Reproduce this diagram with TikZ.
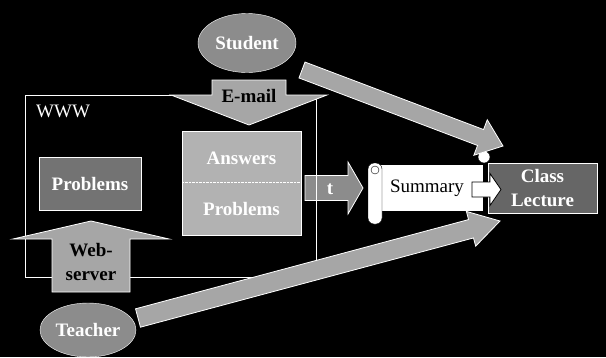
\documentclass[tikz,border=0pt]{standalone}
\usepackage{fontspec}
\setmainfont{Liberation Serif}
\usetikzlibrary{calc}
\usetikzlibrary{shapes.geometric}

\newcommand{\blockarrow}[6]{%
	\coordinate (hb) at ($(#3)!#6!(#2)$);
	\filldraw[#1] ($(#2)!#4!90:(#3)$) -- ($(hb)!#4!90:(#3)$) -- ($(hb)!#5!90:(#3)$) -- (#3)
		-- ($(hb)!#5!-90:(#3)$) -- ($(hb)!#4!-90:(#3)$) -- ($(#2)!#4!-90:(#3)$) -- cycle;
}

\begin{document}
\begin{tikzpicture}[x=1pt,y=-1pt,font=\fontsize{19}{24}\selectfont]
	\tikzstyle{oval}=[ellipse,draw=white,fill=black!45,text=white,font=\fontsize{19}{24}\selectfont\bfseries,inner sep=0pt]
	\tikzstyle{box}=[rectangle,draw=white,fill=black!55,text=white,font=\fontsize{19}{24}\selectfont\bfseries,inner sep=0pt]
	\tikzstyle{pale}=[rectangle,draw=white,fill=black!30,inner sep=0pt]
	\tikzstyle{grayarrow}=[draw=white,fill=black!35,line width=0.8pt]
	\tikzstyle{label}=[inner sep=0pt,font=\fontsize{19}{24}\selectfont\bfseries]
	\fill[black] (0,0) rectangle (606,357);
	% t arrow below the frame
	\coordinate (ta) at (305,188);
	\coordinate (tb) at (363,188);
	\blockarrow{grayarrow,fill=black!45}{ta}{tb}{12.5pt}{26pt}{15pt}
	\node[label,text=white] (t) at (330,189) {t};
	\draw[white,line width=0.6pt] (25,95) rectangle (316,277);
	\node[inner sep=0pt,text=white,anchor=west] (www) at (36,111) {WWW};
	\node[box,minimum width=102,minimum height=53] (problems) at (90,183.5) {Problems};
	\coordinate (wa) at (91,292);
	\coordinate (wb) at (91,221);
	\blockarrow{grayarrow}{wa}{wb}{39pt}{78pt}{18pt}
	\node[label,align=center] (web) at (91,262) {Web-\\server};
	\coordinate (ea) at (249,80);
	\coordinate (eb) at (249,125);
	\blockarrow{grayarrow}{ea}{eb}{37pt}{78pt}{30pt}
	\node[label] (email) at (249,96) {E-mail};
	\node[pale,minimum width=119,minimum height=104] (store) at (241.5,183) {};
	\draw[white,densely dotted] (store.west |- 0,182) -- (store.east |- 0,182);
	\node[label,text=white] (answers) at (241.5,158) {Answers};
	\node[label,text=white] (problems2) at (241.5,209) {Problems};
	\node[oval,minimum width=98,minimum height=59] (student) at (247,43) {Student};
	\node[oval,minimum width=96,minimum height=54] (teacher) at (88,330) {Teacher};
	% summary scroll
	\node[rectangle,draw=black,fill=white,minimum width=104,minimum height=47,inner sep=0pt] (summary) at (431,187.5) {};
	\filldraw[draw=black,fill=white,rounded corners=6pt] (368,163) rectangle (382,224);
	\draw[black] (375,170) circle (4);
	\filldraw[draw=black,fill=white] (484,157) circle (6);
	\node[inner sep=0pt] (summarytext) at (427,188) {Summary};
	\node[box,fill=black!60,minimum width=109,minimum height=50,align=center] (lecture) at (542.5,188) {Class\\Lecture};
	\coordinate (sa) at (472,189.5);
	\coordinate (sb) at (501,189.5);
	\blockarrow{draw=black,fill=white,line width=0.8pt}{sa}{sb}{7.5pt}{16pt}{11pt}
	\coordinate (sta) at (302,70);
	\coordinate (stb) at (503,146);
	\blockarrow{grayarrow}{sta}{stb}{8.5pt}{19pt}{24pt}
	\coordinate (tea) at (138,318);
	\coordinate (teb) at (500,221);
	\blockarrow{grayarrow}{tea}{teb}{9.5pt}{18pt}{30pt}
\end{tikzpicture}
\end{document}
